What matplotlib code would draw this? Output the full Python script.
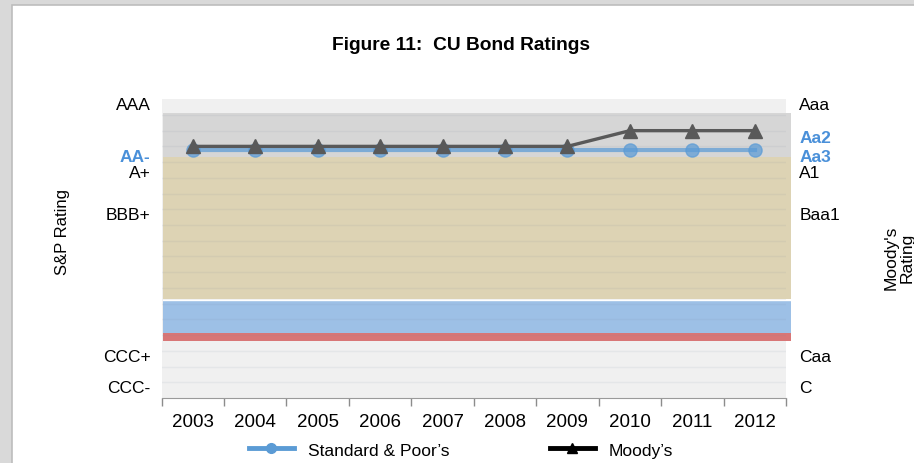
import matplotlib
matplotlib.use('Agg')
import matplotlib.pyplot as plt
import matplotlib.transforms as mtransforms
from matplotlib.lines import Line2D
from matplotlib.patches import Rectangle

plt.rcParams['font.family'] = ['Liberation Sans', 'DejaVu Sans']

# rating scales, best first
sp_scale = ['AAA', 'AA+', 'AA', 'AA-', 'A+', 'A', 'A-', 'BBB+', 'BBB', 'BBB-',
            'BB+', 'BB', 'BB-', 'B+', 'B', 'B-', 'CCC+', 'CCC', 'CCC-']
moody_scale = ['Aaa', 'Aa1', 'Aa2', 'Aa3', 'A1', 'A2', 'A3', 'Baa1', 'Baa2', 'Baa3',
               'Ba1', 'Ba2', 'Ba3', 'B1', 'B2', 'B3', 'Caa', 'Ca', 'C']

years = [2003, 2004, 2005, 2006, 2007, 2008, 2009, 2010, 2011, 2012]
sp_ratings = ['AA-', 'AA-', 'AA-', 'AA-', 'AA-', 'AA-', 'AA-', 'AA-', 'AA-', 'AA-']
moody_ratings = ['Aa3', 'Aa3', 'Aa3', 'Aa3', 'Aa3', 'Aa3', 'Aa3', 'Aa2', 'Aa2', 'Aa2']

sp_ticks = ['AAA', 'AA-', 'A+', 'BBB+', 'CCC+', 'CCC-']
moody_ticks = ['Aaa', 'Aa2', 'Aa3', 'A1', 'Baa1', 'Caa', 'C']
highlight = ['AA-', 'Aa2', 'Aa3']

# shaded rating zones (top, bottom) on the notch scale
band_tops = [0.88, 3.67, 12.76, 14.86]
band_bottoms = [3.67, 12.72, 14.86, 15.37]
band_colors = ['#d6d6d6', '#ddd3b4', '#9dc0e6', '#d87676']

OFF = 0.25          # where a rating sits inside its notch
NUDGE = {'AA-': 4.5, 'A+': 4.5, 'Aa2': 1.5, 'Aa3': 4.5, 'A1': 4.5}   # label nudges, px
BLUE = '#4a90d9'

fig = plt.figure(figsize=(9.14, 4.64), dpi=100, facecolor='#d9d9d9')
fig.patches.append(Rectangle((12 / 914, -0.1), 1.1, 1.1 - 6 / 464,
                             transform=fig.transFigure, facecolor='white',
                             edgecolor='#bdbdbd', linewidth=1.2, zorder=-5))

ax = fig.add_axes([161.5 / 914, 1 - 399 / 464, 624.5 / 914, (399 - 100.2) / 464])
ax.set_facecolor('#f0f0f0')
ax.set_xlim(-0.5, len(years) - 0.5)
ax.set_ylim(19, 0)

for top, bot, c in zip(band_tops, band_bottoms, band_colors):
    ax.axhspan(top, bot, xmin=0.003, xmax=1.0075, color=c, lw=0, zorder=1, clip_on=False)
ax.axhline(band_tops[2], xmin=0.003, xmax=1.0075, color='white', lw=1, zorder=1.1, clip_on=False)

for k in range(1, 19):
    ax.axhline(k, color=(0.45, 0.52, 0.6, 0.09), lw=1, zorder=1.5)

x = list(range(len(years)))
sp_y = [sp_scale.index(r) + OFF for r in sp_ratings]
mo_y = [moody_scale.index(r) for r in moody_ratings]

ax.plot(x, sp_y, color='#5b9bd5', alpha=0.72, lw=3, marker='o', ms=9.5, zorder=3)
ax.plot(x, mo_y, color='#595959', lw=2.4, marker='^', ms=9.5, zorder=4)

# x axis: category labels centred, tick marks between
ax.set_xticks(x)
ax.set_xticklabels([str(y) for y in years], fontsize=13.5)
ax.set_xticks([i - 0.5 for i in range(len(years) + 1)], minor=True)
ax.tick_params(axis='x', which='major', length=0, pad=11)
ax.tick_params(axis='x', which='minor', length=6, color='#8c8c8c', width=1)
for s in ['top', 'right', 'left']:
    ax.spines[s].set_visible(False)
ax.spines['bottom'].set_color('#9a9a9a')

ax.set_yticks([sp_scale.index(t) + OFF for t in sp_ticks])
ax.set_yticklabels(sp_ticks, fontsize=12.5)
ax.tick_params(axis='y', length=0, pad=8)

ax2 = ax.twinx()
ax2.set_ylim(19, 0)
ax2.set_yticks([moody_scale.index(t) + OFF for t in moody_ticks])
ax2.set_yticklabels(moody_ticks, fontsize=12.5)
ax2.tick_params(axis='y', length=0, pad=9.5)
for s in ax2.spines.values():
    s.set_visible(False)

for lab in ax.get_yticklabels() + ax2.get_yticklabels():
    t = lab.get_text()
    if t in highlight:
        lab.set_color(BLUE)
        lab.set_fontweight('bold')
    if t in NUDGE:
        lab.set_transform(lab.get_transform() +
                          mtransforms.ScaledTranslation(0, -NUDGE[t] / 100, fig.dpi_scale_trans))

fig.text(461 / 914, 1 - 46 / 464, 'Figure 11:  CU Bond Ratings', ha='center', va='center',
         fontsize=13.8, fontweight='bold')
fig.text(62 / 914, 1 - 232 / 464, 'S&P Rating', rotation=90, ha='center', va='center', fontsize=12)
fig.text(899 / 914, 1 - 258 / 464, "Moody's\nRating", rotation=90, ha='center', va='center',
         fontsize=12.5, linespacing=1.1)

handles = [Line2D([], [], color='#5b9bd5', lw=3.5, marker='o', ms=7),
           Line2D([], [], color='black', lw=3.5, marker='^', ms=7)]
fig.legend(handles, ["Standard & Poor\u2019s", "Moody\u2019s"], loc='center',
           bbox_to_anchor=(461 / 914, 1 - 451 / 464), ncol=2, frameon=False, fontsize=12.5,
           handlelength=2.6, columnspacing=5.8, handletextpad=0.8)

fig.savefig('out.png', dpi=100, facecolor=fig.get_facecolor())
